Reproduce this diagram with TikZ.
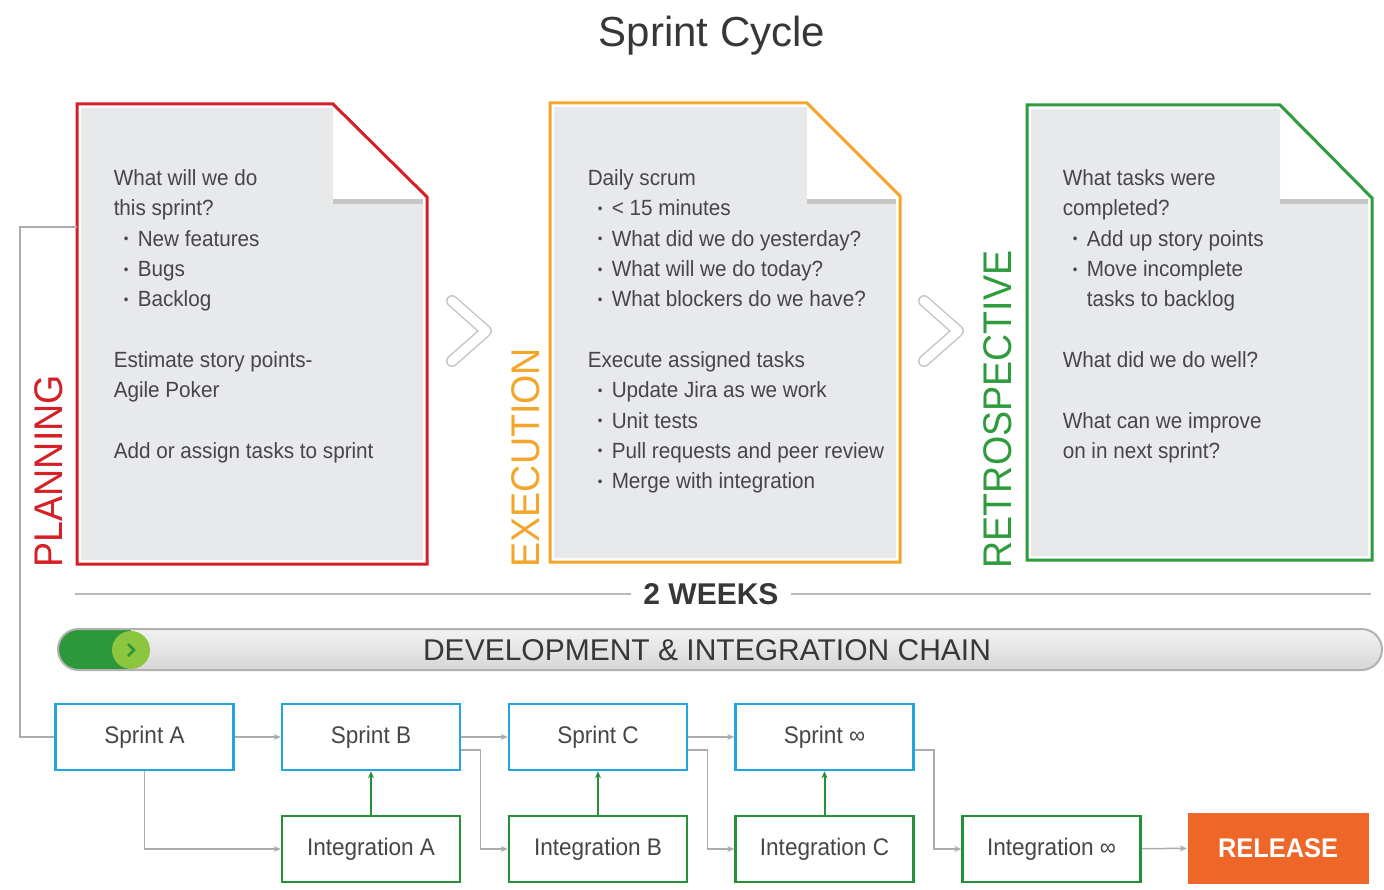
\documentclass[tikz,border=0pt]{standalone}
\usepackage{fontspec}
\setmainfont{Liberation Sans}[FakeStretch=0.94]
\newfontfamily\plainsans{Liberation Sans}
\usetikzlibrary{arrows.meta}

\definecolor{planred}{RGB}{212,32,38}
\definecolor{execorange}{RGB}{243,166,42}
\definecolor{retrogreen}{RGB}{46,156,60}
\definecolor{sprintblue}{RGB}{35,165,225}
\definecolor{integgreen}{RGB}{36,145,56}
\definecolor{releaseorange}{RGB}{238,102,40}
\definecolor{pillgreen}{RGB}{44,152,58}
\definecolor{limegreen}{RGB}{140,198,63}
\definecolor{inkgray}{RGB}{70,70,72}
\definecolor{inkdark}{RGB}{55,55,58}
\definecolor{linkgray}{RGB}{172,172,174}
\definecolor{docgray}{RGB}{232,233,235}

\newcommand{\itm}{\hspace*{10pt}\makebox[14pt][l]{\raisebox{2.5pt}{\fontsize{14}{14}\selectfont\textbullet}}}

\begin{document}
\begin{tikzpicture}[x=1pt, y=-1pt,
                    line width=1.5pt,
                    >={Stealth[length=7pt,width=6pt]}]
    \tikzstyle{doctext}=[anchor=north west, inner sep=0pt, align=left, text=inkgray, font=\fontsize{22}{30.3}\selectfont]
    \tikzstyle{phase}=[rotate=90, anchor=base west, inner sep=0pt, font=\fontsize{40}{40}\selectfont]
    \tikzstyle{stagebox}=[rectangle, draw, fill=white, line width=2.5pt, minimum width=178pt, minimum height=66pt, text=inkgray, font=\fontsize{24}{24}\selectfont]
    \tikzstyle{sprint}=[stagebox, draw=sprintblue]
    \tikzstyle{integration}=[stagebox, draw=integgreen]
    \tikzstyle{release}=[rectangle, fill=releaseorange, minimum width=181pt, minimum height=71pt, text=white, font=\bfseries\fontsize{27}{27}\selectfont]
    \tikzstyle{link}=[draw=linkgray, line width=1.5pt]
    \tikzstyle{merge}=[draw=integgreen, line width=2pt]
    \tikzstyle{chevron}=[draw=gray!45, line width=1.5pt, double=white, double distance=9pt, line cap=round, line join=round]

    \fill[white] (0,0) rectangle (1384,890);
    \useasboundingbox (0,0) rectangle (1384,890);

    \node[font=\plainsans\fontsize{42}{42}\selectfont, text=inkdark, anchor=base] (title) at (712,47) {Sprint Cycle};

    \foreach \l/\f/\r/\t/\b/\c in {77/333/427/104/564/planred, 550/807/900/103/562/execorange, 1027/1280/1372/105/560/retrogreen}
    {
        \fill[docgray] (\l+4,\t+4) -- (\f,\t+4) -- (\f,200) -- (\r-4,200) -- (\r-4,\b-4) -- (\l+4,\b-4) -- cycle;
        \draw[gray!45, line width=5pt] (\f,202) -- (\r-4,202);
        \draw[\c, line width=3pt] (\l,\t) -- (\f,\t) -- (\r,\t+93) -- (\r,\b) -- (\l,\b) -- cycle;
    }

    \node[doctext] (planText) at (113,169) {What will we do\\ this sprint?\\ \itm New features\\ \itm Bugs\\ \itm Backlog\\[30.3pt] Estimate story points-\\ Agile Poker\\[30.3pt] Add or assign tasks to sprint};
    \node[doctext] (execText) at (587,169) {Daily scrum\\ \itm < 15 minutes\\ \itm What did we do yesterday?\\ \itm What will we do today?\\ \itm What blockers do we have?\\[30.3pt] Execute assigned tasks\\ \itm Update Jira as we work\\ \itm Unit tests\\ \itm Pull requests and peer review\\ \itm Merge with integration};
    \node[doctext] (retroText) at (1062,169) {What tasks were\\ completed?\\ \itm Add up story points\\ \itm Move incomplete\\ \hspace*{24pt}tasks to backlog\\[30.3pt] What did we do well?\\[30.3pt] What can we improve\\ on in next sprint?};

    \node[phase, text=planred] (planning) at (62,568) {PLANNING};
    \node[phase, text=execorange] (execution) at (539,568) {EXECUTION};
    \node[phase, text=retrogreen] (retro) at (1011,569) {RETROSPECTIVE};

    \draw[chevron] (452,301) -- (486,331) -- (452,361);
    \draw[chevron] (924,301) -- (958,331) -- (924,361);

    \node[font=\plainsans\bfseries\fontsize{30}{30}\selectfont, text=inkdark, inner sep=12pt] (weeks) at (711,594) {2 WEEKS};
    \draw[gray!55] (75,594) -- (weeks.west);
    \draw[gray!55] (weeks.east) -- (1371,594);

    \begin{scope}
        \path[clip, rounded corners=20.5pt] (58,629) rectangle (1382,670);
        \fill[top color=gray!10, bottom color=gray!32] (58,629) rectangle (1382,670);
        \fill[pillgreen] (58,629) rectangle (131,670);
        \fill[limegreen] (131,650) circle[radius=19pt];
        \draw[pillgreen, line width=2.5pt] (128,644) -- (134,650) -- (128,656);
    \end{scope}
    \draw[gray!60, line width=2pt, rounded corners=20.5pt] (58,629) rectangle (1382,670);
    \node[font=\plainsans\fontsize{30}{30}\selectfont, text=inkdark] (chain) at (707,650) {DEVELOPMENT \& INTEGRATION CHAIN};

    \coordinate (planTap) at (77,227);

    \node[sprint] (sprintA) at (144.5,737) {Sprint A};
    \node[sprint] (sprintB) at (371,737) {Sprint B};
    \node[sprint] (sprintC) at (598,737) {Sprint C};
    \node[sprint] (sprintInf) at (824.5,737) {Sprint ∞};
    \node[integration] (integA) at (371,849) {Integration A};
    \node[integration] (integB) at (598,849) {Integration B};
    \node[integration] (integC) at (824.5,849) {Integration C};
    \node[integration] (integInf) at (1051.5,849) {Integration ∞};
    \node[release] (release) at (1278,848) {RELEASE};

    \draw[link] (planTap) -- ++(-57,0) |- (sprintA);
    \draw[link,->] (sprintA) |- (integA);
    \foreach \a/\b in {sprintA/sprintB, sprintB/sprintC, sprintC/sprintInf}
        \draw[link,->] (\a) -- (\b);
    \foreach \s/\i in {sprintB/integB, sprintC/integC, sprintInf/integInf}
        \draw[link,->] ([yshift=-13pt]\s.east) -- ++(19,0) |- (\i);
    \foreach \i/\s in {integA/sprintB, integB/sprintC, integC/sprintInf}
        \draw[merge,->] (\i) -- (\s);
    \draw[link,->] (integInf) -- (release);
\end{tikzpicture}
\end{document}
